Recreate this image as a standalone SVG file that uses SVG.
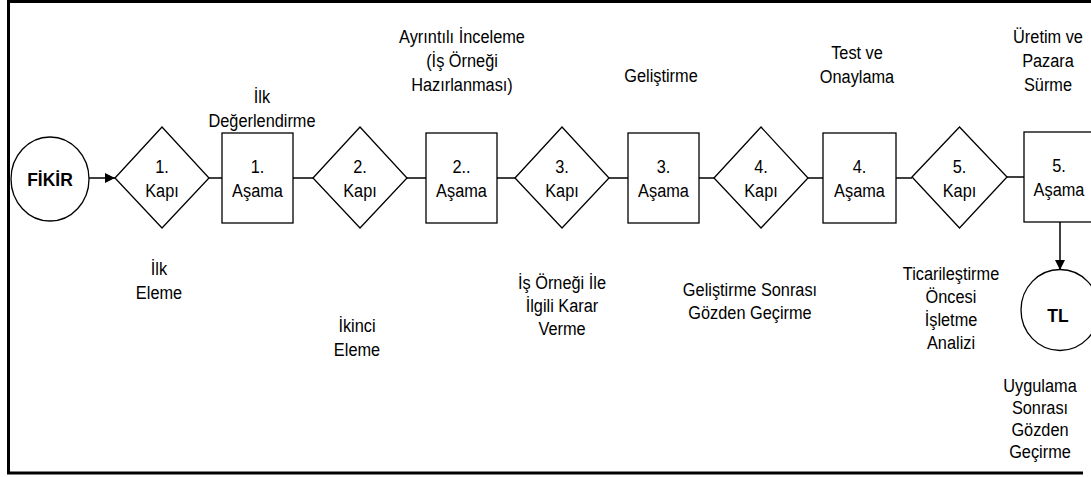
<svg xmlns="http://www.w3.org/2000/svg" width="1091" height="477" viewBox="0 0 1091 477">
<style>
.t{font-family:"Liberation Sans",Arial,sans-serif;font-size:19px;text-anchor:middle;fill:#000}
.b{font-weight:bold}
.s{fill:#fff;stroke:#000;stroke-width:1.3}
.c{stroke:#000;stroke-width:1.5;fill:none}
.f{stroke:#000;stroke-width:3;fill:none}
</style>
<defs>
<marker id="ah" markerWidth="10" markerHeight="10" refX="10" refY="5" orient="auto" markerUnits="userSpaceOnUse">
<path d="M0,0 L10,5 L0,10 Z" fill="#000"/>
</marker>
</defs>
<rect width="1091" height="477" fill="#fff"/>
<g id="frame">
<path class="f" d="M1091,1.5 H8.5 V473 H1083"/>
</g>
<g id="connectors">
<line class="c" x1="89" y1="178" x2="115" y2="178" stroke-width="2" marker-end="url(#ah)"/>
<line class="c" x1="209" y1="178" x2="222" y2="178"/>
<line class="c" x1="293" y1="178" x2="313" y2="178"/>
<line class="c" x1="407" y1="178" x2="426" y2="178"/>
<line class="c" x1="497" y1="178" x2="515" y2="178"/>
<line class="c" x1="609" y1="178" x2="628" y2="178"/>
<line class="c" x1="699" y1="178" x2="714" y2="178"/>
<line class="c" x1="808" y1="178" x2="823" y2="178"/>
<line class="c" x1="896" y1="178" x2="912" y2="178"/>
<line class="c" x1="1007" y1="177" x2="1024" y2="177"/>
<line class="c" x1="1060" y1="222" x2="1060" y2="270" stroke-width="2" marker-end="url(#ah)"/>
</g>
<g id="fikir">
<ellipse class="s" cx="50" cy="179" rx="39" ry="42"/>
<text class="t b" transform="translate(50,186) scale(0.92,1)">FİKİR</text>
</g>
<g id="kapi1">
<path class="s" d="M115,178 L162,127 L209,178 L162,228 Z"/>
<text class="t" transform="translate(162,173) scale(0.86,1)"><tspan x="0">1.</tspan><tspan x="0" dy="24">Kapı</tspan></text>
</g>
<g id="asama1">
<rect class="s" x="222" y="133" width="71" height="90"/>
<text class="t" transform="translate(257.5,173) scale(0.86,1)"><tspan x="0">1.</tspan><tspan x="0" dy="24">Aşama</tspan></text>
</g>
<g id="kapi2">
<path class="s" d="M313,178 L360,127 L407,178 L360,228 Z"/>
<text class="t" transform="translate(360,173) scale(0.86,1)"><tspan x="0">2.</tspan><tspan x="0" dy="24">Kapı</tspan></text>
</g>
<g id="asama2">
<rect class="s" x="426" y="133" width="71" height="90"/>
<text class="t" transform="translate(461.5,173) scale(0.86,1)"><tspan x="0">2..</tspan><tspan x="0" dy="24">Aşama</tspan></text>
</g>
<g id="kapi3">
<path class="s" d="M515,178 L562,127 L609,178 L562,228 Z"/>
<text class="t" transform="translate(562,173) scale(0.86,1)"><tspan x="0">3.</tspan><tspan x="0" dy="24">Kapı</tspan></text>
</g>
<g id="asama3">
<rect class="s" x="628" y="133" width="71" height="90"/>
<text class="t" transform="translate(663.5,173) scale(0.86,1)"><tspan x="0">3.</tspan><tspan x="0" dy="24">Aşama</tspan></text>
</g>
<g id="kapi4">
<path class="s" d="M714,178 L761,127 L808,178 L761,228 Z"/>
<text class="t" transform="translate(761,173) scale(0.86,1)"><tspan x="0">4.</tspan><tspan x="0" dy="24">Kapı</tspan></text>
</g>
<g id="asama4">
<rect class="s" x="823" y="133" width="73" height="90"/>
<text class="t" transform="translate(859.5,173) scale(0.86,1)"><tspan x="0">4.</tspan><tspan x="0" dy="24">Aşama</tspan></text>
</g>
<g id="kapi5">
<path class="s" d="M912,177 L959.5,127 L1007,177 L959.5,228 Z"/>
<text class="t" transform="translate(959.5,173) scale(0.86,1)"><tspan x="0">5.</tspan><tspan x="0" dy="24">Kapı</tspan></text>
</g>
<g id="asama5">
<rect class="s" x="1024" y="132" width="72" height="90"/>
<text class="t" transform="translate(1059,172) scale(0.86,1)"><tspan x="0">5.</tspan><tspan x="0" dy="24">Aşama</tspan></text>
</g>
<g id="tl">
<ellipse class="s" cx="1060" cy="310" rx="39" ry="40.5"/>
<text class="t b" transform="translate(1058,322) scale(0.92,1)">TL</text>
</g>
<g id="labels">
<text class="t" transform="translate(262,103) scale(0.86,1)"><tspan x="0">İlk</tspan><tspan x="0" dy="24">Değerlendirme</tspan></text>
<text class="t" transform="translate(462,43) scale(0.86,1)"><tspan x="0">Ayrıntılı İnceleme</tspan><tspan x="0" dy="24">(İş Örneği</tspan><tspan x="0" dy="24">Hazırlanması)</tspan></text>
<text class="t" transform="translate(661,82) scale(0.86,1)">Geliştirme</text>
<text class="t" transform="translate(857,59) scale(0.86,1)"><tspan x="0">Test ve</tspan><tspan x="0" dy="24">Onaylama</tspan></text>
<text class="t" transform="translate(1048,43) scale(0.86,1)"><tspan x="0">Üretim ve</tspan><tspan x="0" dy="24">Pazara</tspan><tspan x="0" dy="24">Sürme</tspan></text>
<text class="t" transform="translate(159,275) scale(0.86,1)"><tspan x="0">İlk</tspan><tspan x="0" dy="24">Eleme</tspan></text>
<text class="t" transform="translate(357,332) scale(0.86,1)"><tspan x="0">İkinci</tspan><tspan x="0" dy="24">Eleme</tspan></text>
<text class="t" transform="translate(562,289) scale(0.86,1)"><tspan x="0">İş Örneği İle</tspan><tspan x="0" dy="23">İlgili Karar</tspan><tspan x="0" dy="23">Verme</tspan></text>
<text class="t" transform="translate(750,296) scale(0.86,1)"><tspan x="0">Geliştirme Sonrası</tspan><tspan x="0" dy="23">Gözden Geçirme</tspan></text>
<text class="t" transform="translate(951,280) scale(0.86,1)"><tspan x="0">Ticarileştirme</tspan><tspan x="0" dy="23">Öncesi</tspan><tspan x="0" dy="23">İşletme</tspan><tspan x="0" dy="23">Analizi</tspan></text>
<text class="t" transform="translate(1040,392) scale(0.86,1)"><tspan x="0">Uygulama</tspan><tspan x="0" dy="22">Sonrası</tspan><tspan x="0" dy="22">Gözden</tspan><tspan x="0" dy="22">Geçirme</tspan></text>
</g>
</svg>
